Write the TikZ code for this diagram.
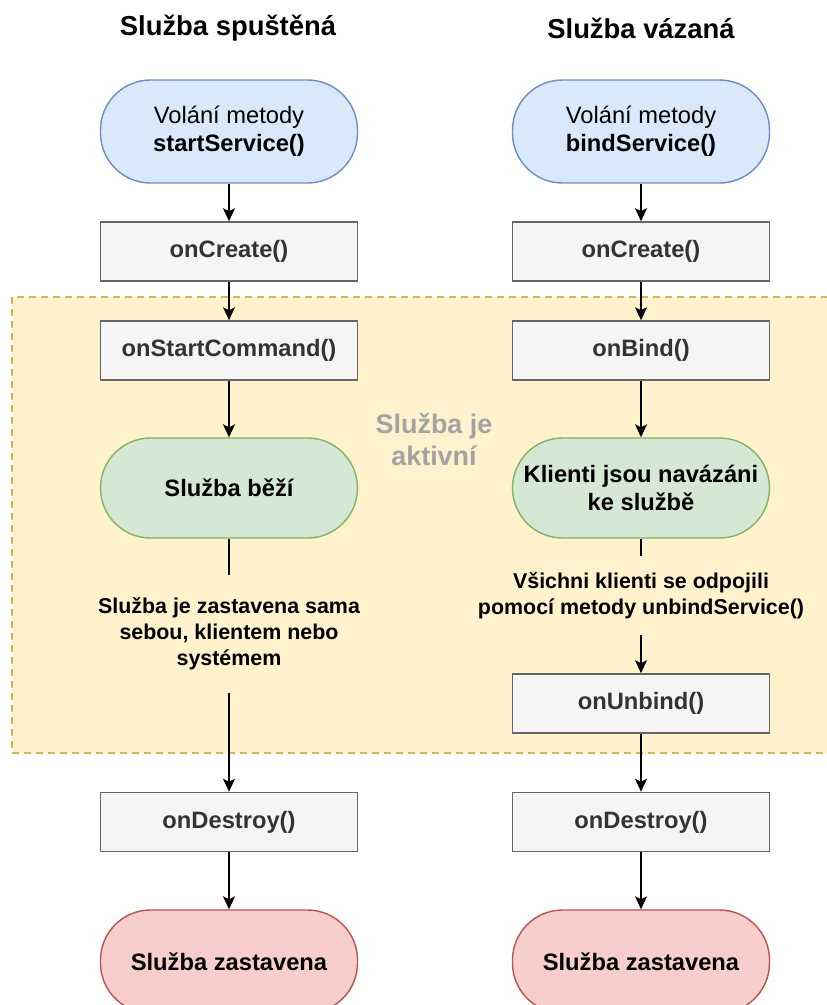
\documentclass[tikz,border=0pt]{standalone}
\usepackage{fontspec}
\setmainfont{Liberation Sans}
\usetikzlibrary{arrows.meta,positioning}

\definecolor{modra}{HTML}{DAE8FC}
\definecolor{modracara}{HTML}{6C8EBF}
\definecolor{zelena}{HTML}{D5E8D4}
\definecolor{zelenacara}{HTML}{82B366}
\definecolor{cervena}{HTML}{F8CECC}
\definecolor{cervenacara}{HTML}{B85450}
\definecolor{seda}{HTML}{F5F5F5}
\definecolor{sedacara}{HTML}{666666}
\definecolor{sedytext}{HTML}{333333}
\definecolor{oblast}{HTML}{FFF2CC}
\definecolor{oblastcara}{HTML}{D6B656}
\definecolor{aktivni}{HTML}{A3A3A3}

\begin{document}
\begin{tikzpicture}[
            x=1bp, y=-1bp,                % 像素坐标
            >={Stealth[length=13bp, width=12bp, inset=3bp]},
            arrow/.style={->, line width=1.6bp},
            line/.style={line width=1.6bp},
            title/.style={font=\fontsize{27.5}{32}\selectfont\bfseries},
            box/.style={
                rectangle,
                draw=sedacara,
                fill=seda,
                line width=1.6bp,
                minimum width=257bp,
                minimum height=59bp,
                text=sedytext,
                font=\fontsize{23.8}{28}\selectfont\bfseries
            },
            pill/.style={
                rectangle,
                rounded corners=50bp,
                line width=1.4bp,
                minimum width=257bp,
                minimum height=103bp,
                align=center,
                font=\fontsize{23.8}{28}\selectfont
            },
            popis/.style={
                rectangle,
                inner sep=0pt,
                align=center,
                font=\fontsize{21.5}{26}\selectfont\bfseries
            }
        ]
            \useasboundingbox (0,0) rectangle (827,1005);

            % 背景
            \draw[oblastcara, fill=oblast, line width=1.6bp, dash pattern=on 7bp off 5bp]
                (12,297) rectangle (840,753);
            \node[font=\fontsize{27}{32}\selectfont\bfseries, text=aktivni, align=center] (aktiv) at (434,440) {Služba je\\aktivní};

            % 标题
            \node[title] (t1) at (228,28) {Služba spuštěná};
            \node[title] (t2) at (641,28) {Služba vázaná};

            % 左列
            \node[pill, fill=modra, draw=modracara] (start1) at (229,131.5) {Volání metody\\\textbf{startService()}};
            \node[box] (create1) [node distance=120bp, below of=start1] {onCreate()};
            \node[box] (cmd1) [node distance=99bp, below of=create1] {onStartCommand()};
            \node[pill, minimum height=100bp, fill=zelena, draw=zelenacara, font=\fontsize{23.8}{28}\selectfont\bfseries] (run1) [node distance=137.5bp, below of=cmd1] {Služba běží};
            \node[popis, minimum height=118bp] (txt1) [node distance=146bp, below of=run1] {Služba je zastavena sama\\sebou, klientem nebo\\systémem};
            \node[box] (destroy1) [node distance=188bp, below of=txt1] {onDestroy()};
            \node[pill, fill=cervena, draw=cervenacara, font=\fontsize{23.8}{28}\selectfont\bfseries] (end1) [node distance=139.5bp, below of=destroy1] {Služba zastavena};

            % 右列
            \node[pill, fill=modra, draw=modracara] (start2) [node distance=412bp, right of=start1] {Volání metody\\\textbf{bindService()}};
            \node[box] (create2) [node distance=120bp, below of=start2] {onCreate()};
            \node[box] (bind2) [node distance=99bp, below of=create2] {onBind()};
            \node[pill, minimum height=100bp, fill=zelena, draw=zelenacara, font=\fontsize{23.8}{28}\selectfont\bfseries] (run2) [node distance=137.5bp, below of=bind2] {Klienti jsou navázáni\\ke službě};
            \node[popis, minimum height=79bp] (txt2) [node distance=107.5bp, below of=run2] {Všichni klienti se odpojili\\pomocí metody unbindService()};
            \node[box] (unbind2) [node distance=108bp, below of=txt2] {onUnbind()};
            \node[box] (destroy2) [node distance=118.5bp, below of=unbind2] {onDestroy()};
            \node[pill, fill=cervena, draw=cervenacara, font=\fontsize{23.8}{28}\selectfont\bfseries] (end2) [node distance=139.5bp, below of=destroy2] {Služba zastavena};

            % 边
            \draw[arrow] (start1) -- (create1);
            \draw[arrow] (create1) -- (cmd1);
            \draw[arrow] (cmd1) -- (run1);
            \draw[line] (run1) -- (txt1);
            \draw[arrow] (txt1) -- (destroy1);
            \draw[arrow] (destroy1) -- (end1);

            \draw[arrow] (start2) -- (create2);
            \draw[arrow] (create2) -- (bind2);
            \draw[arrow] (bind2) -- (run2);
            \draw[line] (run2) -- (txt2);
            \draw[arrow] (txt2) -- (unbind2);
            \draw[arrow] (unbind2) -- (destroy2);
            \draw[arrow] (destroy2) -- (end2);
        \end{tikzpicture}
\end{document}
